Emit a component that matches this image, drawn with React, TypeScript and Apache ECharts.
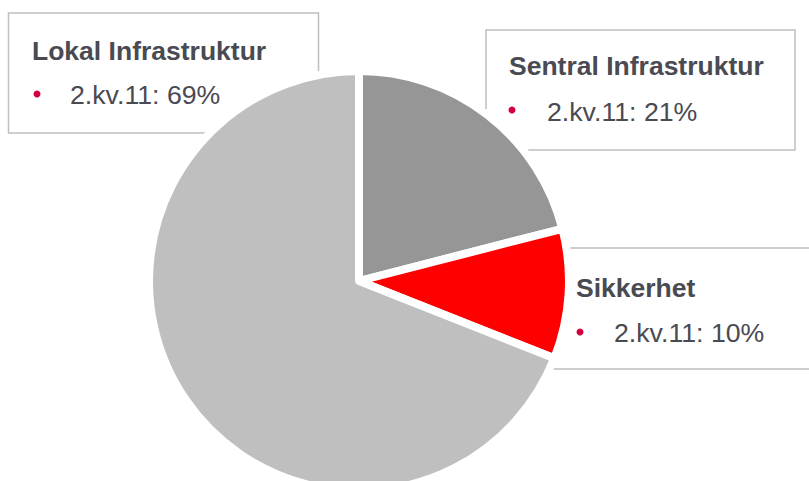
import React, { useEffect, useRef } from "react";
import * as echarts from "echarts";

// ---- data ----
const categories = ["Sentral Infrastruktur", "Sikkerhet", "Lokal Infrastruktur"];
const shares = [21, 10, 69];
const period = "2.kv.11";
const sliceColors = ["#969696", "#ff0000", "#bfbfbf"];

// ---- layout of the label boxes (same order as categories) ----
const boxes = [
  { x: 486, y: 30, w: 309, h: 120, tx: 509, ty1: 66, ty2: 112, bx: 512, by: 110 },
  { x: 545, y: 248, w: 300, h: 121, tx: 576, ty1: 288, ty2: 333, bx: 580, by: 332 },
  { x: 8.5, y: 13, w: 310, h: 120, tx: 32, ty1: 51, ty2: 95, bx: 37, by: 94 },
];

const FONT = '"Liberation Sans", Arial, sans-serif';
const TEXT_COLOR = "#4a4a52";
const BULLET_COLOR = "#d1003f";

export default function App() {
  const ref = useRef<HTMLDivElement>(null);

  useEffect(() => {
    document.body.style.margin = "0";
    if (!ref.current) return;
    const chart = echarts.init(ref.current, undefined, { renderer: "svg" });

    const graphics: any[] = [];
    categories.forEach((name, i) => {
      const b = boxes[i];
      graphics.push({
        type: "rect",
        z: 0,
        shape: { x: b.x, y: b.y, width: b.w, height: b.h },
        style: { fill: "#ffffff", stroke: "#bfbfbf", lineWidth: 1.5 },
        silent: true,
      });
      graphics.push({
        type: "text",
        z: 10,
        x: b.tx,
        y: b.ty1,
        style: {
          text: name,
          fill: TEXT_COLOR,
          font: `bold 26.5px ${FONT}`,
          align: "left",
          verticalAlign: "middle",
        },
        silent: true,
      });
      graphics.push({
        type: "circle",
        z: 10,
        shape: { cx: b.bx, cy: b.by, r: 3.5 },
        style: { fill: BULLET_COLOR },
        silent: true,
      });
      graphics.push({
        type: "text",
        z: 10,
        x: b.tx + 38,
        y: b.ty2,
        style: {
          text: `${period}: ${shares[i]}%`,
          fill: TEXT_COLOR,
          font: `26.7px ${FONT}`,
          align: "left",
          verticalAlign: "middle",
        },
        silent: true,
      });
    });

    chart.setOption({
      animation: false,
      backgroundColor: "#ffffff",
      graphic: { elements: graphics },
      series: [
        {
          type: "pie",
          z: 5,
          center: [359, 281],
          radius: 210,
          startAngle: 90,
          clockwise: true,
          silent: true,
          label: { show: false },
          labelLine: { show: false },
          emphasis: { disabled: true },
          itemStyle: { borderColor: "#ffffff", borderWidth: 8 },
          data: categories.map((name, i) => ({
            name,
            value: shares[i],
            itemStyle: { color: sliceColors[i] },
          })),
        },
      ],
    });

    return () => chart.dispose();
  }, []);

  return <div ref={ref} style={{ width: 809, height: 481 }} />;
}
